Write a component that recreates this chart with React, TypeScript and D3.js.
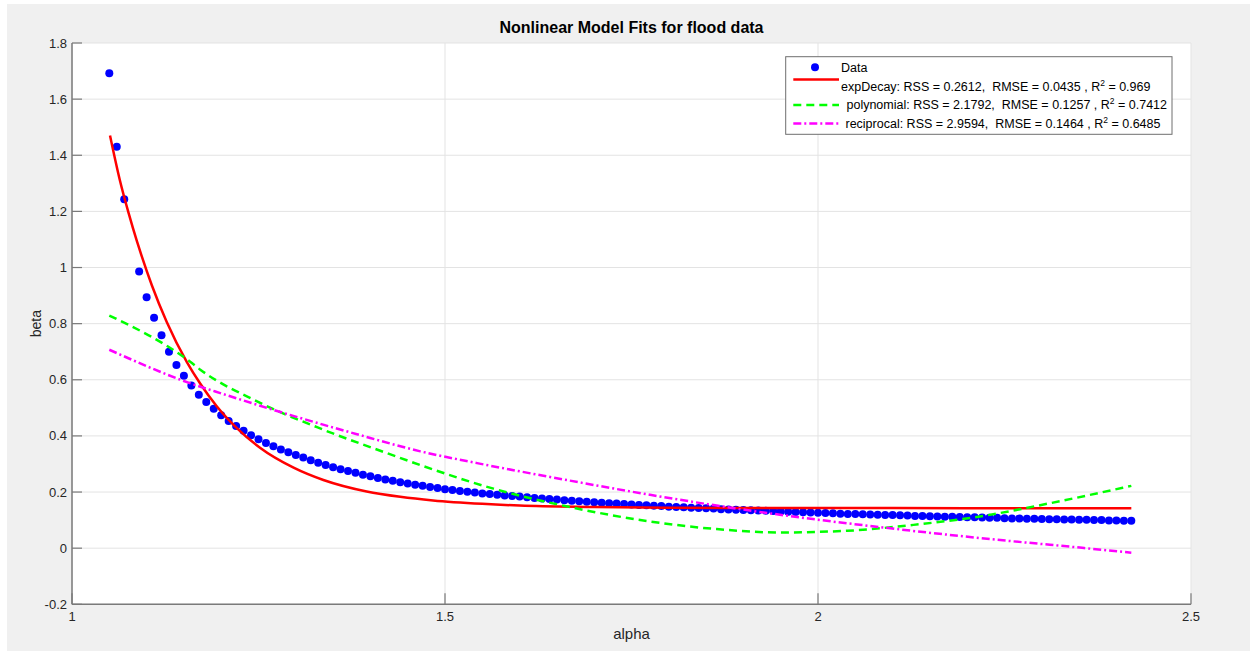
import React from "react";
import * as d3 from "d3";

const alphaValues = [
  1.05, 1.06, 1.07, 1.09, 1.1, 1.11, 1.12, 1.13, 1.14, 1.15, 1.16, 1.17, 1.18, 1.19, 1.2,
  1.21, 1.22, 1.23, 1.24, 1.25, 1.26, 1.27, 1.28, 1.29, 1.3, 1.31, 1.32, 1.33, 1.34, 1.35,
  1.36, 1.37, 1.38, 1.39, 1.4, 1.41, 1.42, 1.43, 1.44, 1.45, 1.46, 1.47, 1.48, 1.49, 1.5,
  1.51, 1.52, 1.53, 1.54, 1.55, 1.56, 1.57, 1.58, 1.59, 1.6, 1.61, 1.62, 1.63, 1.64, 1.65,
  1.66, 1.67, 1.68, 1.69, 1.7, 1.71, 1.72, 1.73, 1.74, 1.75, 1.76, 1.77, 1.78, 1.79, 1.8,
  1.81, 1.82, 1.83, 1.84, 1.85, 1.86, 1.87, 1.88, 1.89, 1.9, 1.91, 1.92, 1.93, 1.94, 1.95,
  1.96, 1.97, 1.98, 1.99, 2.0, 2.01, 2.02, 2.03, 2.04, 2.05, 2.06, 2.07, 2.08, 2.09, 2.1,
  2.11, 2.12, 2.13, 2.14, 2.15, 2.16, 2.17, 2.18, 2.19, 2.2, 2.21, 2.22, 2.23, 2.24, 2.25,
  2.26, 2.27, 2.28, 2.29, 2.3, 2.31, 2.32, 2.33, 2.34, 2.35, 2.36, 2.37, 2.38, 2.39, 2.4,
  2.41, 2.42,
];

const betaValues = [
  1.692, 1.43, 1.243, 0.986, 0.894, 0.821, 0.759, 0.7, 0.653, 0.614, 0.58, 0.547, 0.521, 0.497, 0.474,
  0.453, 0.435, 0.418, 0.402, 0.388, 0.375, 0.363, 0.352, 0.342, 0.332, 0.323, 0.313, 0.304, 0.296, 0.288,
  0.281, 0.275, 0.269, 0.262, 0.256, 0.25, 0.245, 0.24, 0.235, 0.23, 0.226, 0.222, 0.218, 0.214, 0.21,
  0.207, 0.204, 0.201, 0.198, 0.195, 0.193, 0.19, 0.188, 0.186, 0.184, 0.181, 0.179, 0.177, 0.175, 0.173,
  0.171, 0.169, 0.167, 0.165, 0.164, 0.162, 0.16, 0.159, 0.157, 0.156, 0.154, 0.153, 0.151, 0.15, 0.148,
  0.147, 0.146, 0.144, 0.143, 0.142, 0.141, 0.139, 0.138, 0.137, 0.136, 0.135, 0.134, 0.133, 0.132, 0.131,
  0.13, 0.129, 0.128, 0.127, 0.126, 0.125, 0.124, 0.123, 0.122, 0.122, 0.121, 0.12, 0.119, 0.118, 0.118,
  0.117, 0.116, 0.115, 0.115, 0.114, 0.113, 0.112, 0.112, 0.111, 0.11, 0.11, 0.109, 0.108, 0.108, 0.107,
  0.106, 0.106, 0.105, 0.105, 0.104, 0.103, 0.103, 0.102, 0.102, 0.101, 0.101, 0.1, 0.1, 0.099, 0.099,
  0.098, 0.098,
];

const expDecayAlpha = [1.051, 1.064, 1.076, 1.087, 1.093, 1.107, 1.127, 1.154, 1.172, 1.194, 1.221, 1.252, 1.297, 1.337, 1.395, 1.44, 1.484, 1.55, 1.6, 1.7, 1.8, 2.0, 2.2, 2.42];
const expDecayBeta = [1.47, 1.313, 1.193, 1.094, 1.044, 0.937, 0.806, 0.663, 0.586, 0.506, 0.428, 0.358, 0.287, 0.243, 0.202, 0.183, 0.17, 0.158, 0.152, 0.147, 0.144, 0.143, 0.1426, 0.1426];

const polyAlpha = [1.05, 1.158, 1.172, 1.248, 1.337, 1.426, 1.467, 1.565, 1.67, 1.775, 1.864, 1.949, 2.039, 2.128, 2.217, 2.307, 2.42];
const polyBeta = [0.829, 0.665, 0.636, 0.523, 0.422, 0.335, 0.296, 0.212, 0.145, 0.095, 0.068, 0.056, 0.062, 0.083, 0.113, 0.158, 0.222];

const recipAlpha = [1.05, 1.158, 1.203, 1.292, 1.382, 1.467, 1.543, 1.632, 1.721, 1.775, 1.949, 2.083, 2.217, 2.351, 2.42];
const recipBeta = [0.707, 0.588, 0.549, 0.475, 0.406, 0.345, 0.303, 0.258, 0.215, 0.19, 0.119, 0.075, 0.036, 0.002, -0.016];

const xTicks = [1, 1.5, 2, 2.5];
const yTicks = [-0.2, 0, 0.2, 0.4, 0.6, 0.8, 1, 1.2, 1.4, 1.6, 1.8];

const titleText = "Nonlinear Model Fits for flood data";
const xLabelText = "alpha";
const yLabelText = "beta";

const legendEntries = [
  { kind: "marker", label: "Data", sup: "", tail: "" },
  { kind: "exp", label: "expDecay: RSS = 0.2612,  RMSE = 0.0435 , R", sup: "2", tail: " = 0.969" },
  { kind: "poly", label: " polynomial: RSS = 2.1792,  RMSE = 0.1257 , R", sup: "2", tail: " = 0.7412" },
  { kind: "recip", label: " reciprocal: RSS = 2.9594,  RMSE = 0.1464 , R", sup: "2", tail: " = 0.6485" },
];

const FONT = "'Liberation Sans', Arial, Helvetica, sans-serif";

export default function App() {
  const W = 1250;
  const H = 651;
  const left = 72, right = 1191, top = 43, bottom = 604.3;

  const x = d3.scaleLinear().domain([1, 2.5]).range([left, right]);
  const y = d3.scaleLinear().domain([-0.2, 1.8]).range([bottom, top]);

  const mk = (xs: number[], ys: number[]) =>
    d3
      .line<number>()
      .x((_, i) => x(xs[i]))
      .y((d) => y(d))
      .curve(d3.curveMonotoneX)(ys) as string;

  const expPath = mk(expDecayAlpha, expDecayBeta);
  const polyPath = mk(polyAlpha, polyBeta);
  const recipPath = mk(recipAlpha, recipBeta);

  const gridColor = "#e3e3e3";
  const axisColor = "#7a7a7a";
  const textColor = "#262626";

  const styles: Record<string, any> = {
    exp: { stroke: "#ff0000", dash: undefined },
    poly: { stroke: "#00ff00", dash: "8,5" },
    recip: { stroke: "#ff00ff", dash: "8,3,2,3" },
  };

  const legX = 785.7, legY = 56.7, legW = 386.3, legH = 77.6;
  const rowY = [67.3, 86.5, 105, 123.5];
  const lineYOff = [0, -7, 0, 0];
  const textX = [841, 841, 843, 842];

  return (
    <svg
      width={W}
      height={H}
      style={{ position: "absolute", left: 0, top: 0, display: "block" }}
      fontFamily={FONT}
    >
      <rect x={0} y={0} width={W} height={H} fill="#ffffff" />
      <rect x={7} y={4} width={W - 7} height={H - 4} fill="#f0f0f0" />
      <rect x={left} y={top} width={right - left} height={bottom - top} fill="#ffffff" />

      {yTicks.map((t) => (
        <line key={"gy" + t} x1={left} x2={right} y1={y(t)} y2={y(t)} stroke={gridColor} strokeWidth={1} />
      ))}
      {xTicks.map((t) => (
        <line key={"gx" + t} x1={x(t)} x2={x(t)} y1={top} y2={bottom} stroke={gridColor} strokeWidth={1} />
      ))}

      <line x1={left} x2={left} y1={top} y2={bottom} stroke={axisColor} strokeWidth={1.5} />
      <line x1={left} x2={right} y1={bottom} y2={bottom} stroke={axisColor} strokeWidth={1.5} />
      {yTicks.map((t) => (
        <line key={"ty" + t} x1={left} x2={left + 10} y1={y(t)} y2={y(t)} stroke={axisColor} strokeWidth={1.2} />
      ))}
      {xTicks.map((t) => (
        <line key={"tx" + t} x1={x(t)} x2={x(t)} y1={bottom} y2={bottom - 11} stroke={axisColor} strokeWidth={1.2} />
      ))}
      {yTicks.map((t) => (
        <text key={"ly" + t} x={left - 5} y={y(t)} dy="0.35em" textAnchor="end" fontSize={13} fill={textColor}>
          {String(t)}
        </text>
      ))}
      {xTicks.map((t) => (
        <text key={"lx" + t} x={x(t)} y={bottom + 17} textAnchor="middle" fontSize={13} fill={textColor}>
          {String(t)}
        </text>
      ))}

      <text x={(left + right) / 2} y={33} textAnchor="middle" fontSize={16} fontWeight="bold" fill="#000">
        {titleText}
      </text>
      <text x={(left + right) / 2} y={639} textAnchor="middle" fontSize={15} fill={textColor}>
        {xLabelText}
      </text>
      <text
        transform={`translate(41, ${(top + bottom) / 2}) rotate(-90)`}
        textAnchor="middle"
        fontSize={14}
        fill={textColor}
      >
        {yLabelText}
      </text>

      <g>
        {betaValues.map((b, i) => (
          <circle key={"p" + i} cx={x(alphaValues[i])} cy={y(b)} r={4} fill="#0000ff" />
        ))}
      </g>

      <path d={expPath} fill="none" stroke="#ff0000" strokeWidth={2.5} />
      <path d={polyPath} fill="none" stroke="#00ff00" strokeWidth={2.5} strokeDasharray="8,5" />
      <path d={recipPath} fill="none" stroke="#ff00ff" strokeWidth={2.5} strokeDasharray="8,3,2,3" />

      <rect x={legX} y={legY} width={legW} height={legH} fill="#ffffff" stroke="#6e6e6e" strokeWidth={1} />
      {legendEntries.map((e, i) => (
        <g key={"leg" + i}>
          {e.kind === "marker" ? (
            <circle cx={815} cy={rowY[i]} r={4} fill="#0000ff" />
          ) : (
            <line
              x1={793.3}
              x2={839}
              y1={rowY[i] + lineYOff[i]}
              y2={rowY[i] + lineYOff[i]}
              stroke={styles[e.kind].stroke}
              strokeWidth={2.5}
              strokeDasharray={styles[e.kind].dash}
            />
          )}
          <text x={textX[i]} y={rowY[i]} dy="0.35em" fontSize={12.5} fill="#000" style={{ whiteSpace: "pre" }}>
            {e.label}
            {e.sup ? (
              <tspan fontSize={8.5} dy={-5}>
                {e.sup}
              </tspan>
            ) : null}
            {e.tail ? <tspan dy={5}>{e.tail}</tspan> : null}
          </text>
        </g>
      ))}
    </svg>
  );
}
